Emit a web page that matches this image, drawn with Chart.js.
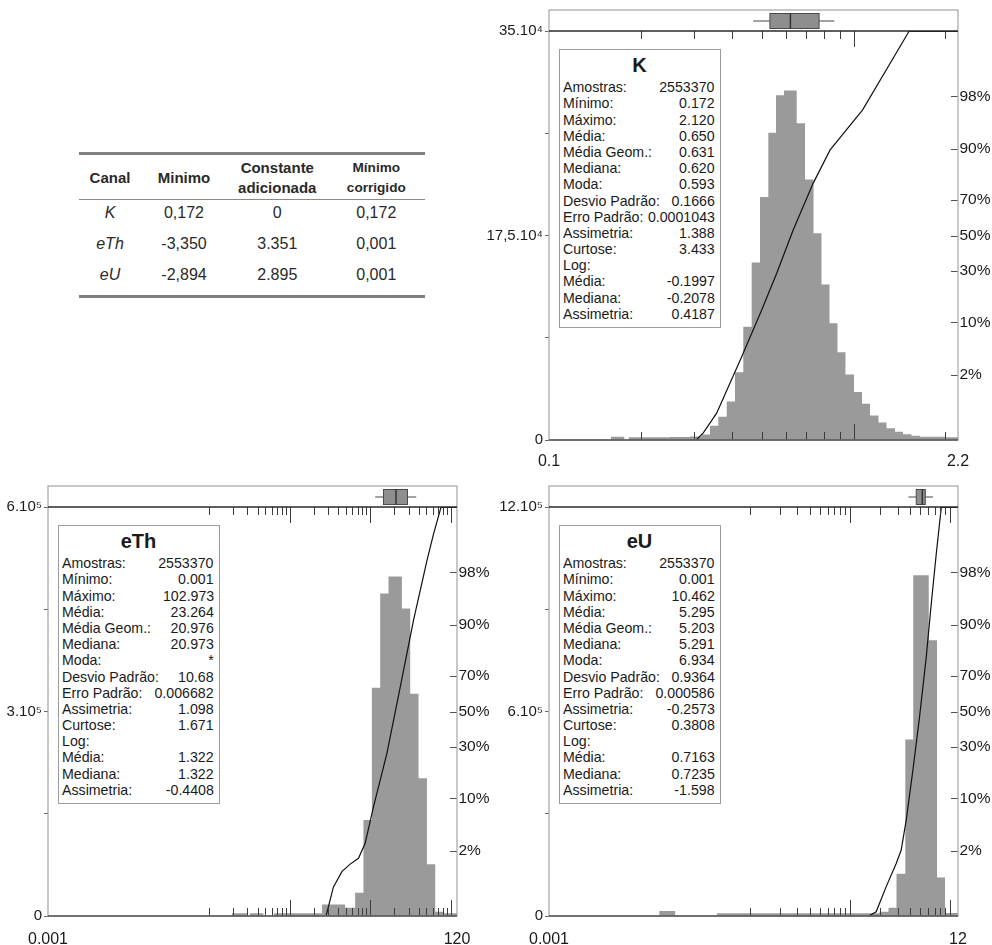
<!DOCTYPE html>
<html lang="pt">
<head>
<meta charset="utf-8">
<title>Histogramas K, eTh, eU</title>
<script src="https://cdn.jsdelivr.net/npm/chart.js@4.4.1/dist/chart.umd.min.js"></script>
<style>
  html, body { margin: 0; padding: 0; background: #fff; }
  #page { position: relative; width: 992px; height: 945px; overflow: hidden;
          font-family: "Liberation Sans", Arial, sans-serif; color: #1a1a1a; }
  #page canvas { position: absolute; }
  .stats { position: absolute; box-sizing: border-box; width: 162px; height: 279px;
           border: 1.5px solid #9c9c9c; background: #fff; }
  .stats .ttl { position: absolute; left: 0; right: 0; top: 4.6px; text-align: center;
                font-weight: bold; font-size: 20px; line-height: 22px; }
  .stats .rows { position: absolute; left: 3.3px; right: 4.7px; top: 29.7px; }
  .stats .row { position: relative; height: 16.2px; line-height: 16.2px; font-size: 15px; white-space: nowrap; }
  .stats .lab { position: absolute; left: 0; top: 0; transform: scaleX(.945); transform-origin: 0 50%; }
  .stats .val { position: absolute; right: 0; top: 0; transform: scaleX(.945); transform-origin: 100% 50%; }
  #tbl { position: absolute; left: 79px; top: 152px; width: 346px; table-layout: fixed;
         border-collapse: separate; border-spacing: 0; color: #2a2a2a;
         border-top: 3px solid #808080; border-bottom: 3px solid #808080; }
  #tbl th { font-size: 15px; line-height: 20px; font-weight: bold; height: 44px; padding: 0;
            vertical-align: middle; text-align: center; border-bottom: 1px solid #8a8a8a; }
  #tbl th span { position: relative; top: 1.3px; }
  #tbl th.c4 { font-size: 13.6px; }
  #tbl td { font-size: 16px; line-height: 18px; height: 31px; padding: 0;
            vertical-align: middle; text-align: center; }
  #tbl td span { position: relative; top: -2.5px; }
  #tbl tbody tr:last-child td { height: 33px; }
  #tbl tbody tr:last-child td span { top: -3.5px; }
</style>
</head>
<body>
<div id="page">
  <table id="tbl">
    <colgroup><col style="width:62px"><col style="width:86px"><col style="width:100.6px"><col style="width:97.4px"></colgroup>
    <thead><tr>
      <th><span>Canal</span></th>
      <th><span>Minimo</span></th>
      <th><span>Constante<br>adicionada</span></th>
      <th class="c4"><span>Mínimo<br>corrigido</span></th>
    </tr></thead>
    <tbody></tbody>
  </table>
  <canvas id="cK" width="516" height="470" style="left:476px;top:0px"></canvas>
  <canvas id="cTh" width="496" height="475" style="left:0px;top:470px"></canvas>
  <canvas id="cU" width="496" height="475" style="left:496px;top:470px"></canvas>
</div>
<script>
// ---- table: minimum correction per channel ----
const tableChannels  = ['K', 'eTh', 'eU'];
const tableMinimo    = ['0,172', '-3,350', '-2,894'];
const tableConstante = ['0', '3.351', '2.895'];
const tableCorrigido = ['0,172', '0,001', '0,001'];

// ---- summary statistics ----
const statLabels = ['Amostras:', 'Mínimo:', 'Máximo:', 'Média:', 'Média Geom.:', 'Mediana:', 'Moda:',
  'Desvio Padrão:', 'Erro Padrão:', 'Assimetria:', 'Curtose:', 'Log:', 'Média:', 'Mediana:', 'Assimetria:'];
const kStats  = ['2553370', '0.172', '2.120', '0.650', '0.631', '0.620', '0.593', '0.1666', '0.0001043', '1.388', '3.433', '', '-0.1997', '-0.2078', '0.4187'];
const thStats = ['2553370', '0.001', '102.973', '23.264', '20.976', '20.973', '*', '10.68', '0.006682', '1.098', '1.671', '', '1.322', '1.322', '-0.4408'];
const uStats  = ['2553370', '0.001', '10.462', '5.295', '5.203', '5.291', '6.934', '0.9364', '0.000586', '-0.2573', '0.3808', '', '0.7163', '0.7235', '-1.598'];

// ---- K: histogram (bin edges, counts), cumulative curve, box plot ----
const kBinEdges = [0.1598, 0.1767, 0.1827, 0.2495, 0.2903, 0.3171, 0.3376, 0.3595, 0.3831, 0.4078, 0.4342,
  0.4626, 0.4926, 0.5246, 0.5560, 0.5906, 0.6501, 0.6922, 0.7383, 0.7842, 0.8330, 0.8848, 0.9399, 1.0025,
  1.0649, 1.1313, 1.2064, 1.2815, 1.3666, 1.4516, 1.5475, 1.6508, 1.9942, 2.2];
const kCounts = [2800, 0, 2300, 2600, 3000, 4800, 12300, 20000, 33000, 58000, 97000, 152000, 208000, 263000,
  295000, 299000, 271000, 223000, 177000, 133000, 100000, 75000, 56000, 41000, 31000, 21000, 15000, 10000,
  7000, 5000, 3700, 2800, 2300];
const kCurveX   = [0.304, 0.321, 0.355, 0.429, 0.499, 0.559, 0.633, 0.736, 0.836, 1.07, 1.52, 2.2];
const kCurvePct = [0.128, 0.18, 0.44, 3.7, 13.6, 28.9, 53.2, 77.9, 89.6, 96.8, 99.87, 99.87];
const kBox = [0.468, 0.531, 0.620, 0.770, 0.864];          // whisker, Q1, median, Q3, whisker
const kXRange = [0.1, 2.2];
const kXLabels = ['0.1', '2.2'];
const kYTicks = [0, 87500, 175000, 262500, 350000];
const kYLabels = ['0', '', '17,5.10⁴', '', '35.10⁴'];
const kMinorTicks = [0.2, 0.3, 0.4, 0.5, 0.6, 0.7, 0.8, 0.9, 2];
const kMajorTicks = [1];

// ---- eTh ----
const thBinEdges = [0.1926, 0.2959, 0.3224, 0.4718, 0.6411, 2.533, 4.894, 6.518, 8.267, 10.515, 13.34,
  16.92, 24.82, 31.49, 39.95, 50.80, 64.42, 81.70, 120];
const thCounts = [4000, 0, 4000, 0, 4000, 17000, 12000, 34000, 141000, 335000, 473000, 498000, 451000,
  326000, 202000, 76000, 6400, 4000];
const thCurveX   = [2.84, 3.50, 4.46, 5.65, 7.17, 8.68, 11.01, 16.17, 23.66, 34.63, 50.8, 61.4, 75.9, 120];
const thCurvePct = [0.128, 0.48, 0.91, 1.22, 1.52, 2.59, 8.0, 26.8, 64.1, 91.1, 98.7, 99.56, 99.87, 99.87];
const thBox = [11.56, 14.66, 20.973, 29.14, 37.39];
const thXRange = [0.001, 120];
const thXLabels = ['0.001', '120'];
const thYTicks = [0, 150000, 300000, 450000, 600000];
const thYLabels = ['0', '', '3.10⁵', '', '6.10⁵'];
const thMinorTicks = [0.1, 0.2, 0.3, 0.4, 0.5, 0.6, 0.7, 0.8, 0.9, 2, 3, 4, 5, 6, 7, 8, 9,
  20, 30, 40, 50, 60, 70, 80, 90];
const thMajorTicks = [1, 10, 100];

// ---- eU ----
const uBinEdges = [0.01255, 0.01813, 0.04731, 1.978, 2.432, 2.923, 3.578, 4.292, 6.131, 7.404, 8.898, 12];
const uCounts = [15000, 0, 8000, 12700, 24000, 124000, 518000, 1000000, 809000, 113000, 9000];
const uCurveX   = [1.55, 1.833, 2.307, 2.903, 3.257, 3.653, 4.262, 4.962, 5.788, 6.493, 7.285, 8.174, 12];
const uCurvePct = [0.128, 0.157, 0.49, 1.25, 2.05, 5.46, 19.4, 46.8, 78.9, 94.4, 99.0, 99.87, 99.87];
const uBox = [3.85, 4.60, 5.291, 5.66, 6.75];
const uXRange = [0.001, 12];
const uXLabels = ['0.001', '12'];
const uYTicks = [0, 300000, 600000, 900000, 1200000];
const uYLabels = ['0', '', '6.10⁵', '', '12.10⁵'];
const uMinorTicks = [0.1, 0.2, 0.3, 0.4, 0.5, 0.6, 0.7, 0.8, 0.9, 2, 3, 4, 5, 6, 7, 8, 9];
const uMajorTicks = [1, 10];

// cumulative-probability axis labels
const pctTicks = [2, 10, 30, 50, 70, 90, 98];

// ---- table body ----
const tbody = document.querySelector('#tbl tbody');
tableChannels.forEach((c, i) => {
  const tr = document.createElement('tr');
  [c, tableMinimo[i], tableConstante[i], tableCorrigido[i]].forEach((t, j) => {
    const td = document.createElement('td');
    const sp = document.createElement('span');
    sp.textContent = t;
    if (j === 0) sp.style.fontStyle = 'italic';
    td.appendChild(sp);
    tr.appendChild(td);
  });
  tbody.appendChild(tr);
});

// ---- normal-probability (probit) scale ----
function probit(p) {
  p = Math.min(Math.max(p, 1e-12), 1 - 1e-12);
  const a = [-3.969683028665376e+01, 2.209460984245205e+02, -2.759285104469687e+02, 1.383577518672690e+02, -3.066479806614716e+01, 2.506628277459239e+00];
  const b = [-5.447609879822406e+01, 1.615858368580409e+02, -1.556989798598866e+02, 6.680131188771972e+01, -1.328068155288572e+01];
  const c = [-7.784894002430293e-03, -3.223964580411365e-01, -2.400758277161838e+00, -2.549732539343734e+00, 4.374664141464968e+00, 2.938163982698783e+00];
  const d = [7.784695709041462e-03, 3.224671290700398e-01, 2.445134137142996e+00, 3.754408661907416e+00];
  const pl = 0.02425;
  let q, r;
  if (p < pl) {
    q = Math.sqrt(-2 * Math.log(p));
    return (((((c[0]*q+c[1])*q+c[2])*q+c[3])*q+c[4])*q+c[5]) / ((((d[0]*q+d[1])*q+d[2])*q+d[3])*q+1);
  }
  if (p <= 1 - pl) {
    q = p - 0.5; r = q * q;
    return (((((a[0]*r+a[1])*r+a[2])*r+a[3])*r+a[4])*r+a[5])*q / (((((b[0]*r+b[1])*r+b[2])*r+b[3])*r+b[4])*r+1);
  }
  q = Math.sqrt(-2 * Math.log(1 - p));
  return -(((((c[0]*q+c[1])*q+c[2])*q+c[3])*q+c[4])*q+c[5]) / ((((d[0]*q+d[1])*q+d[2])*q+d[3])*q+1);
}
function normCdf(z) {
  const t = 1 / (1 + 0.2316419 * Math.abs(z));
  const y = 0.3989423 * Math.exp(-z * z / 2) * t * (0.3193815 + t * (-0.3565638 + t * (1.781478 + t * (-1.821256 + t * 1.330274))));
  return z > 0 ? 1 - y : y;
}
class ProbitScale extends Chart.LinearScale {
  getPixelForValue(value) {
    if (value === null || value === undefined || isNaN(value)) return NaN;
    const z0 = probit(this.min / 100), z1 = probit(this.max / 100);
    return this.getPixelForDecimal((probit(value / 100) - z0) / (z1 - z0));
  }
  getValueForPixel(pixel) {
    const z0 = probit(this.min / 100), z1 = probit(this.max / 100);
    return 100 * normCdf(z0 + this.getDecimalForPixel(pixel) * (z1 - z0));
  }
}
ProbitScale.id = 'probit';
ProbitScale.defaults = {};
Chart.register(ProbitScale);

Chart.defaults.font.family = '"Liberation Sans", Arial, sans-serif';
Chart.defaults.color = '#1a1a1a';

// frame, box-plot strip, inner tick marks
const panelPlugin = {
  id: 'panel',
  afterDatasetsDraw(chart, args, o) {
    const { ctx, chartArea: a } = chart;
    const xs = chart.scales.x, ps = chart.scales.yp;
    const stripTop = a.top - o.strip;
    const seg = (x1, y1, x2, y2) => { ctx.beginPath(); ctx.moveTo(x1, y1); ctx.lineTo(x2, y2); ctx.stroke(); };
    ctx.save();
    ctx.lineWidth = 1;
    ctx.strokeStyle = '#3c3c3c';
    const tick = (v, len) => {
      const px = Math.round(xs.getPixelForValue(v)) + 0.5;
      seg(px, a.top, px, a.top + len);
      seg(px, a.bottom, px, a.bottom - len);
    };
    o.minor.forEach(v => tick(v, 8));
    o.major.forEach(v => tick(v, 16));
    ctx.strokeStyle = '#555';
    ps.ticks.forEach((t, i) => {
      const py = Math.round(ps.getPixelForTick(i)) + 0.5;
      seg(a.right - 7, py, a.right, py);
    });
    ctx.strokeStyle = '#a3a3a3';
    ctx.lineWidth = 1.2;
    ctx.strokeRect(a.left, stripTop, a.right - a.left, a.bottom - stripTop);
    ctx.lineWidth = 1.5;
    ctx.strokeStyle = '#2a2a2a';
    seg(a.left, a.top, a.right, a.top);
    ctx.strokeStyle = '#555';
    seg(a.left, a.bottom, a.right, a.bottom);
    const [lo, q1, md, q3, hi] = o.box.map(v => xs.getPixelForValue(v));
    const by0 = stripTop + 3.5, by1 = a.top - 2.5, bm = (by0 + by1) / 2;
    ctx.lineWidth = 1;
    ctx.strokeStyle = '#444';
    seg(lo, bm, q1, bm);
    seg(q3, bm, hi, bm);
    ctx.fillStyle = '#8e8e8e';
    ctx.fillRect(q1, by0, q3 - q1, by1 - by0);
    ctx.strokeStyle = '#4a4a4a';
    ctx.strokeRect(q1, by0, q3 - q1, by1 - by0);
    ctx.lineWidth = 1.5;
    ctx.strokeStyle = '#333';
    seg(md, by0, md, by1);
    ctx.restore();
  }
};

function histPoints(edges, counts) {
  return edges.map((e, i) => ({ x: e, y: i < counts.length ? counts[i] : 0 }));
}
function curvePoints(xs, ps) {
  return xs.map((x, i) => ({ x: x, y: ps[i] }));
}

function panel(id, p) {
  return new Chart(document.getElementById(id), {
    type: 'line',
    data: {
      datasets: [
        { data: curvePoints(p.curveX, p.curvePct), yAxisID: 'yp', borderColor: '#111', borderWidth: 1.2,
          pointRadius: 0, fill: false, tension: 0, order: 0 },
        { data: histPoints(p.edges, p.counts), yAxisID: 'y', stepped: true, fill: 'origin',
          backgroundColor: '#9a9a9a', borderColor: 'rgba(0,0,0,0)', borderWidth: 0, pointRadius: 0, order: 1 }
      ]
    },
    options: {
      responsive: false, animation: false, devicePixelRatio: 1, events: [],
      layout: { padding: { top: p.top, left: 0, right: 0, bottom: 0 } },
      plugins: {
        legend: { display: false }, tooltip: { enabled: false },
        panel: { strip: 21, minor: p.minor, major: p.major, box: p.box }
      },
      scales: {
        x: {
          type: 'logarithmic', position: 'bottom', min: p.xRange[0], max: p.xRange[1],
          grid: { display: false, drawTicks: false }, border: { display: false },
          afterBuildTicks: s => { s.ticks = p.xRange.map(v => ({ value: v })); },
          ticks: { callback: (v, i) => p.xLabels[i], font: { size: 16 }, padding: p.xPad, maxRotation: 0, autoSkip: false },
          afterFit: s => { s.height = p.xh; }
        },
        y: {
          type: 'linear', position: 'left', min: 0, max: p.yTicks[p.yTicks.length - 1],
          afterBuildTicks: s => { s.ticks = p.yTicks.map(v => ({ value: v })); },
          ticks: { callback: (v, i) => p.yLabels[i], font: { size: 15 }, padding: 2, autoSkip: false },
          grid: { drawOnChartArea: false, drawTicks: true, tickLength: 4, color: '#666' },
          border: { display: false },
          afterFit: s => { s.width = p.yw; }
        },
        yp: {
          type: 'probit', position: 'right', min: 0.128, max: 99.872,
          afterBuildTicks: s => { s.ticks = pctTicks.map(v => ({ value: v })); },
          ticks: { callback: v => v + '%', font: { size: 15.5 }, padding: 1.5, autoSkip: false },
          grid: { display: false, drawTicks: false }, border: { display: false },
          afterFit: s => { s.width = p.y2w; }
        }
      }
    },
    plugins: [panelPlugin]
  });
}

function statsBox(chart, canvasLeft, canvasTop, title, values) {
  const a = chart.chartArea;
  const box = document.createElement('div');
  box.className = 'stats';
  box.style.left = (canvasLeft + a.left + 9.5) + 'px';
  box.style.top = (canvasTop + a.top + 17.5) + 'px';
  const ttl = document.createElement('div');
  ttl.className = 'ttl';
  ttl.textContent = title;
  box.appendChild(ttl);
  const rows = document.createElement('div');
  rows.className = 'rows';
  statLabels.forEach((lab, i) => {
    const row = document.createElement('div');
    row.className = 'row';
    const l = document.createElement('span'); l.className = 'lab'; l.textContent = lab;
    const v = document.createElement('span'); v.className = 'val'; v.textContent = values[i];
    row.appendChild(l); row.appendChild(v);
    rows.appendChild(row);
  });
  box.appendChild(rows);
  document.getElementById('page').appendChild(box);
}

const chartK = panel('cK', {
  edges: kBinEdges, counts: kCounts, curveX: kCurveX, curvePct: kCurvePct, box: kBox,
  xRange: kXRange, xLabels: kXLabels, yTicks: kYTicks, yLabels: kYLabels,
  minor: kMinorTicks, major: kMajorTicks, top: 31, yw: 73, y2w: 34, xh: 30, xPad: 12
});
const chartTh = panel('cTh', {
  edges: thBinEdges, counts: thCounts, curveX: thCurveX, curvePct: thCurvePct, box: thBox,
  xRange: thXRange, xLabels: thXLabels, yTicks: thYTicks, yLabels: thYLabels,
  minor: thMinorTicks, major: thMajorTicks, top: 37, yw: 48, y2w: 39, xh: 29, xPad: 14
});
const chartU = panel('cU', {
  edges: uBinEdges, counts: uCounts, curveX: uCurveX, curvePct: uCurvePct, box: uBox,
  xRange: uXRange, xLabels: uXLabels, yTicks: uYTicks, yLabels: uYLabels,
  minor: uMinorTicks, major: uMajorTicks, top: 37, yw: 53, y2w: 34, xh: 29, xPad: 14
});

statsBox(chartK, 476, 0, 'K', kStats);
statsBox(chartTh, 0, 470, 'eTh', thStats);
statsBox(chartU, 496, 470, 'eU', uStats);
</script>
</body>
</html>
